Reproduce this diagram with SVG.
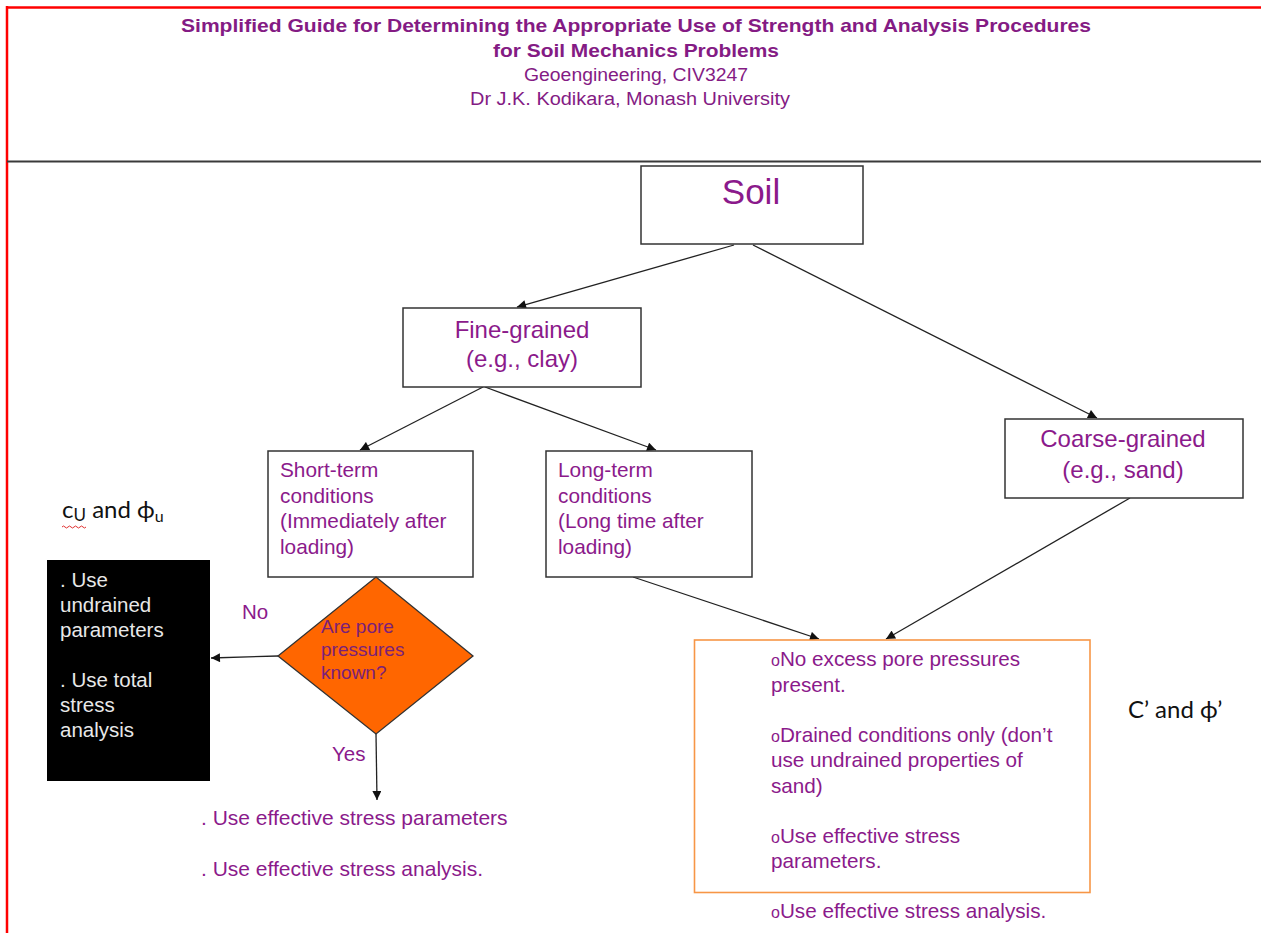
<svg xmlns="http://www.w3.org/2000/svg" width="1261" height="933" viewBox="0 0 1261 933">
<style>
.box{fill:#fff;stroke:#333;stroke-width:1.5}
.t{font-family:"Liberation Sans",Arial,sans-serif;fill:#8b1a8b}
.title{font-family:"Liberation Sans",Arial,sans-serif;fill:#841b84;font-weight:bold;font-size:19px}
.sub{font-family:"Liberation Sans",Arial,sans-serif;fill:#841b84;font-size:18px}
.wt{font-family:"Liberation Sans",Arial,sans-serif;fill:#e8e8e8;font-size:20.5px}
.cal{font-family:Lato,"Open Sans",sans-serif;fill:#111;font-size:24px}
.edge{stroke:#222;stroke-width:1.3;fill:none;marker-end:url(#ah)}
.bul{font-size:16px}
</style>
<defs>
<marker id="ah" viewBox="0 0 10 10" refX="10" refY="5" markerWidth="10" markerHeight="9" markerUnits="userSpaceOnUse" orient="auto">
<path d="M0,0 L10,5 L0,10 z" fill="#111"/>
</marker>
</defs>
<rect width="1261" height="933" fill="#fff"/>
<g id="frame">
<line x1="6" y1="7.5" x2="1261" y2="7.5" stroke="#ff0000" stroke-width="2.5"/>
<line x1="7" y1="6" x2="7" y2="933" stroke="#ff0000" stroke-width="2.5"/>
<line x1="7" y1="161.5" x2="1261" y2="161.5" stroke="#3a3a3a" stroke-width="2"/>
</g>
<g id="header">
<text class="title" x="636" y="32" text-anchor="middle" textLength="910" lengthAdjust="spacingAndGlyphs">Simplified Guide for Determining the Appropriate Use of Strength and Analysis Procedures</text>
<text class="title" x="636" y="57" text-anchor="middle" textLength="286" lengthAdjust="spacingAndGlyphs">for Soil Mechanics Problems</text>
<text class="sub" x="636" y="81" text-anchor="middle" textLength="224" lengthAdjust="spacingAndGlyphs">Geoengineering, CIV3247</text>
<text class="sub" x="630" y="105" text-anchor="middle" textLength="320" lengthAdjust="spacingAndGlyphs">Dr J.K. Kodikara, Monash University</text>
</g>
<g id="connectors">
<line class="edge" x1="734" y1="245" x2="517" y2="307"/>
<line class="edge" x1="753" y1="245" x2="1097" y2="418"/>
<line class="edge" x1="483" y1="387" x2="360" y2="450"/>
<line class="edge" x1="485" y1="387" x2="656" y2="450"/>
<line class="edge" x1="633" y1="577" x2="819" y2="639"/>
<line class="edge" x1="1130" y1="498" x2="886" y2="639"/>
<line class="edge" x1="278" y1="656" x2="211" y2="658"/>
<line class="edge" x1="376" y1="734" x2="377" y2="800"/>
</g>
<g id="soil">
<rect class="box" x="641" y="166" width="222" height="78"/>
<text class="t" x="751" y="204" font-size="35" text-anchor="middle">Soil</text>
</g>
<g id="fine">
<rect class="box" x="403" y="308" width="238" height="79"/>
<text class="t" x="522" y="338" font-size="24" text-anchor="middle">Fine-grained</text>
<text class="t" x="522" y="367" font-size="24" text-anchor="middle">(e.g., clay)</text>
</g>
<g id="coarse">
<rect class="box" x="1005" y="419" width="238" height="79"/>
<text class="t" x="1123" y="447" font-size="24" text-anchor="middle">Coarse-grained</text>
<text class="t" x="1123" y="478" font-size="24" text-anchor="middle">(e.g., sand)</text>
</g>
<g id="short">
<rect class="box" x="268" y="451" width="205" height="126"/>
<text class="t" font-size="20.8"><tspan x="280" y="477">Short-term</tspan><tspan x="280" y="502.5">conditions</tspan><tspan x="280" y="528">(Immediately after</tspan><tspan x="280" y="553.5">loading)</tspan></text>
</g>
<g id="long">
<rect class="box" x="546" y="451" width="206" height="126"/>
<text class="t" font-size="20.8"><tspan x="558" y="477">Long-term</tspan><tspan x="558" y="502.5">conditions</tspan><tspan x="558" y="528">(Long time after</tspan><tspan x="558" y="553.5">loading)</tspan></text>
</g>
<g id="decision">
<polygon points="376,577 473,656 376,734 278,656" fill="#ff6600" stroke="#333" stroke-width="1.3"/>
<text class="t" font-size="19" style="fill:#7a1f7a"><tspan x="321" y="633">Are pore</tspan><tspan x="321" y="656">pressures</tspan><tspan x="321" y="679">known?</tspan></text>
</g>
<g id="labels">
<text class="t" x="242" y="619" font-size="20.5">No</text>
<text class="t" x="332" y="761" font-size="20.5">Yes</text>
</g>
<g id="undrained">
<rect x="47" y="560" width="163" height="221" fill="#000"/>
<text class="wt"><tspan x="60" y="587">. Use</tspan><tspan x="60" y="612">undrained</tspan><tspan x="60" y="637">parameters</tspan><tspan x="60" y="687">. Use total</tspan><tspan x="60" y="712">stress</tspan><tspan x="60" y="737">analysis</tspan></text>
</g>
<g id="cu-label">
<text class="cal" x="62" y="518">c<tspan font-size="17" dy="3">U</tspan><tspan dy="-3"> and ϕ</tspan><tspan font-size="16" dy="4">u</tspan></text>
<path d="M62,527 q1.5,-2 3,0 t3,0 t3,0 t3,0 t3,0 t3,0 t3,0 t3,0" stroke="#e03030" stroke-width="1" fill="none"/>
</g>
<g id="effective">
<text class="t" font-size="21"><tspan x="201" y="825">. Use effective stress parameters</tspan><tspan x="201" y="876">. Use effective stress analysis.</tspan></text>
</g>
<g id="drained">
<rect x="694.5" y="640" width="395.5" height="252.5" fill="#fff" stroke="#f79646" stroke-width="1.6"/>
<text class="t" font-size="20.7">
<tspan x="771" y="666"><tspan class="bul">o</tspan>No excess pore pressures</tspan>
<tspan x="771" y="692">present.</tspan>
<tspan x="771" y="742"><tspan class="bul">o</tspan>Drained conditions only (don’t</tspan>
<tspan x="771" y="767">use undrained properties of</tspan>
<tspan x="771" y="793">sand)</tspan>
<tspan x="771" y="843"><tspan class="bul">o</tspan>Use effective stress</tspan>
<tspan x="771" y="868">parameters.</tspan>
<tspan x="771" y="918"><tspan class="bul">o</tspan>Use effective stress analysis.</tspan>
</text>
</g>
<g id="c-phi-label">
<text class="cal" x="1128" y="718" font-size="25">C’ and ϕ’</text>
</g>
</svg>
